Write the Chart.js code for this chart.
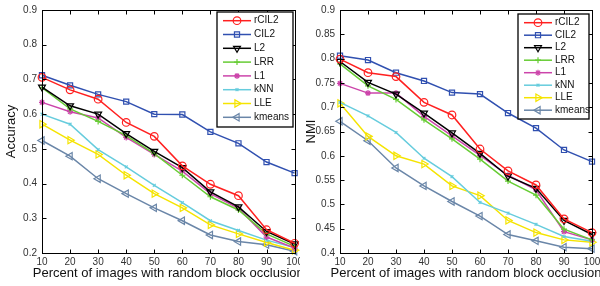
<!DOCTYPE html>
<html>
<head>
<meta charset="utf-8">
<script src="https://cdn.jsdelivr.net/npm/chart.js@4.4.0/dist/chart.umd.min.js"></script>
<style>
body { margin: 0; background: #fff; }
#wrap { position: relative; width: 600px; height: 286px; overflow: hidden; }
canvas { position: absolute; top: 0; }
</style>
</head>
<body>
<div id="wrap">
  <canvas id="accChart" width="300" height="286" style="left:0px"></canvas>
  <canvas id="nmiChart" width="300" height="286" style="left:300px"></canvas>
</div>
<script>
let occlusion = ['10', '20', '30', '40', '50', '60', '70', '80', '90', '100'];
let methods = ['rCIL2', 'CIL2', 'L2', 'LRR', 'L1', 'kNN', 'LLE', 'kmeans'];
let xTitle = 'Percent of images with random block occlusion';

// accuracy (left panel)
let accRCIL2  = [0.706, 0.670, 0.643, 0.576, 0.536, 0.451, 0.398, 0.365, 0.267, 0.228];
let accCIL2   = [0.712, 0.683, 0.657, 0.636, 0.600, 0.599, 0.549, 0.516, 0.462, 0.430];
let accL2     = [0.678, 0.624, 0.600, 0.544, 0.493, 0.446, 0.376, 0.333, 0.262, 0.226];
let accLRR    = [0.676, 0.615, 0.579, 0.538, 0.486, 0.424, 0.362, 0.324, 0.255, 0.219];
let accL1     = [0.634, 0.607, 0.589, 0.533, 0.484, 0.436, 0.371, 0.329, 0.246, 0.214];
let accKNN    = [0.600, 0.571, 0.498, 0.448, 0.395, 0.345, 0.293, 0.265, 0.237, 0.216];
let accLLE    = [0.571, 0.525, 0.484, 0.424, 0.371, 0.330, 0.281, 0.255, 0.230, 0.208];
let accKmeans = [0.524, 0.479, 0.414, 0.371, 0.330, 0.293, 0.252, 0.233, 0.224, 0.205];

// NMI (right panel)
let nmiRCIL2  = [0.799, 0.771, 0.763, 0.710, 0.684, 0.614, 0.569, 0.540, 0.470, 0.442];
let nmiCIL2   = [0.806, 0.797, 0.771, 0.754, 0.730, 0.727, 0.688, 0.657, 0.612, 0.588];
let nmiL2     = [0.794, 0.751, 0.727, 0.688, 0.647, 0.605, 0.558, 0.533, 0.467, 0.438];
let nmiLRR    = [0.789, 0.744, 0.716, 0.674, 0.635, 0.593, 0.548, 0.519, 0.449, 0.427];
let nmiL1     = [0.749, 0.729, 0.729, 0.681, 0.641, 0.601, 0.560, 0.530, 0.444, 0.427];
let nmiKNN    = [0.710, 0.682, 0.648, 0.595, 0.557, 0.504, 0.482, 0.459, 0.434, 0.424];
let nmiLLE    = [0.708, 0.640, 0.600, 0.583, 0.538, 0.518, 0.467, 0.442, 0.427, 0.422];
let nmiKmeans = [0.671, 0.631, 0.575, 0.538, 0.506, 0.476, 0.438, 0.425, 0.412, 0.409];

let accTicks = [0.2, 0.3, 0.4, 0.5, 0.6, 0.7, 0.8, 0.9];
let nmiTicks = [0.4, 0.45, 0.5, 0.55, 0.6, 0.65, 0.7, 0.75, 0.8, 0.85, 0.9];

// look of each method, same order as methods
let colors   = ['#ff2020', '#3050b0', '#000000', '#66cc33', '#cc44aa', '#66ccdd', '#f5e400', '#6a86a8'];
let markers  = ['circle', 'rect', 'triangle', 'cross', 'star', 'crossRot', 'triangle', 'triangle'];
let rotation = [0, 0, 180, 0, 0, 0, 90, 270];
let radius   = [3.8, 3.6, 4, 3, 3, 2, 4.2, 4.2];

const FONT = '"Liberation Sans", Arial, sans-serif';

function makeDatasets(series) {
    return series.map((vals, i) => ({
        label: methods[i],
        data: vals,
        borderColor: colors[i],
        borderWidth: 1.5,
        pointStyle: markers[i],
        pointRotation: rotation[i],
        pointRadius: radius[i],
        pointBorderWidth: 1.2,
        pointBorderColor: colors[i],
        pointBackgroundColor: 'rgba(0,0,0,0)',
        tension: 0,
        clip: false
    }));
}

// matlab style box with inward ticks, x title and legend
const boxPlugin = {
    id: 'boxPlugin',
    afterDatasetsDraw(chart) {
        const ctx = chart.ctx;
        const a = chart.chartArea;
        const xs = chart.scales.x, ys = chart.scales.y;
        ctx.save();
        ctx.strokeStyle = '#000';
        ctx.lineWidth = 1;
        const L = Math.round(a.left) + 0.5, R = Math.round(a.right) + 0.5;
        const T = Math.round(a.top) + 0.5, B = Math.round(a.bottom) + 0.5;
        ctx.strokeRect(L, T, R - L, B - T);
        ctx.beginPath();
        xs.ticks.forEach((t, i) => {
            const px = Math.round(xs.getPixelForTick(i)) + 0.5;
            ctx.moveTo(px, B); ctx.lineTo(px, B - 4);
            ctx.moveTo(px, T); ctx.lineTo(px, T + 4);
        });
        ys.ticks.forEach(t => {
            const py = Math.round(ys.getPixelForValue(t.value)) + 0.5;
            ctx.moveTo(L, py); ctx.lineTo(L + 4, py);
            ctx.moveTo(R, py); ctx.lineTo(R - 4, py);
        });
        ctx.stroke();

        // x axis title, drawn here so it is not squeezed to the axis width
        ctx.font = '13px ' + FONT;
        ctx.fillStyle = '#111';
        ctx.textAlign = 'center';
        ctx.textBaseline = 'middle';
        ctx.fillText(xTitle, (a.left + a.right) / 2, 273);
        ctx.restore();
    },
    afterDraw(chart) {
        // legend box
        const o = chart.options.plugins.boxLegend;
        const ctx = chart.ctx;
        ctx.save();
        ctx.fillStyle = '#fff';
        ctx.fillRect(o.x, o.y, o.w, o.h);
        ctx.strokeStyle = '#000';
        ctx.lineWidth = 1.3;
        ctx.strokeRect(o.x, o.y, o.w, o.h);
        ctx.font = '10px ' + FONT;
        ctx.textBaseline = 'middle';
        chart.data.datasets.forEach((ds, i) => {
            const y = o.y + o.first + i * o.step;
            const x0 = o.x + 6, x1 = x0 + 28;
            ctx.strokeStyle = ds.borderColor;
            ctx.lineWidth = 1.5;
            ctx.beginPath();
            ctx.moveTo(x0, y); ctx.lineTo(x1, y);
            ctx.stroke();
            ctx.fillStyle = 'rgba(0,0,0,0)';
            ctx.lineWidth = 1.2;
            Chart.helpers.drawPoint(ctx, {
                pointStyle: ds.pointStyle, rotation: ds.pointRotation,
                radius: ds.pointRadius, borderWidth: 1.2
            }, (x0 + x1) / 2, y);
            ctx.fillStyle = '#111';
            ctx.fillText(ds.label, x1 + 3, y);
        });
        ctx.restore();
    }
};

function makeChart(id, series, yTicks, yTitle, yWidth, rightPad, legend) {
    const ctx = document.getElementById(id).getContext('2d');
    return new Chart(ctx, {
        type: 'line',
        data: { labels: occlusion, datasets: makeDatasets(series) },
        options: {
            responsive: false,
            animation: false,
            devicePixelRatio: 1,
            layout: { padding: { top: 10, right: rightPad, left: 0, bottom: 0 } },
            plugins: {
                legend: { display: false },
                tooltip: { enabled: false },
                boxLegend: legend
            },
            scales: {
                x: {
                    type: 'category',
                    offset: false,
                    grid: { display: false, drawTicks: false },
                    border: { display: false },
                    ticks: { font: { family: FONT, size: 10 }, color: '#333', padding: 3, maxRotation: 0, autoSkip: false },
                    afterFit: s => { s.height = 33; s.paddingLeft = 0; s.paddingRight = 0; }
                },
                y: {
                    min: yTicks[0],
                    max: yTicks[yTicks.length - 1],
                    grid: { display: false, drawTicks: false },
                    border: { display: false },
                    afterBuildTicks: s => { s.ticks = yTicks.map(v => ({ value: v })); },
                    ticks: {
                        font: { family: FONT, size: 10 }, color: '#333', padding: 5,
                        callback: v => String(+v.toFixed(2))
                    },
                    title: {
                        display: true,
                        text: yTitle,
                        font: { family: FONT, size: 13 },
                        color: '#111',
                        padding: { top: 4, bottom: 0 }
                    },
                    afterFit: s => { s.width = yWidth; s.paddingTop = 0; s.paddingBottom = 0; }
                }
            }
        },
        plugins: [boxPlugin]
    });
}

makeChart('accChart',
    [accRCIL2, accCIL2, accL2, accLRR, accL1, accKNN, accLLE, accKmeans],
    accTicks, 'Accuracy', 42, 3,
    { x: 217, y: 12, w: 76, h: 115, first: 8.7, step: 13.8 });

makeChart('nmiChart',
    [nmiRCIL2, nmiCIL2, nmiL2, nmiLRR, nmiL1, nmiKNN, nmiLLE, nmiKmeans],
    nmiTicks, 'NMI', 40, 8,
    { x: 218, y: 14, w: 71, h: 105, first: 8.7, step: 12.5 });
</script>
</body>
</html>
